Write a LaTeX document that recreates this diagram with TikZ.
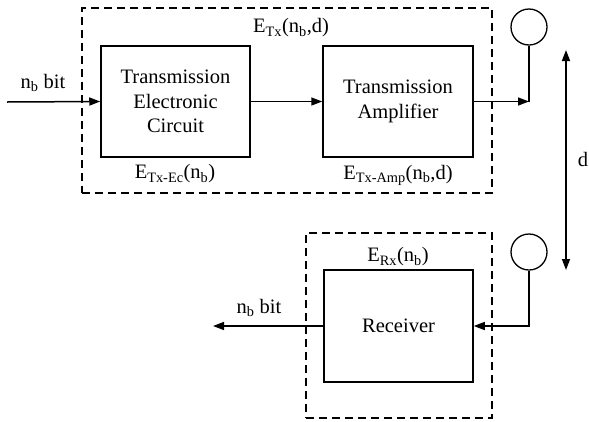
\documentclass[tikz,border=0pt]{standalone}
\usepackage{fontspec}
\setmainfont{Liberation Serif}
\newfontfamily\diagfont{Liberation Serif}
\usetikzlibrary{arrows.meta}

\begin{document}
\begin{tikzpicture}[x=1pt,y=-1pt,
  txt/.style={font=\diagfont\fontsize{20.5}{24.5}\selectfont, inner sep=0pt},
  block/.style={txt, draw, line width=1.5pt, align=center},
  frame/.style={draw, line width=1.3pt, dash pattern=on 8pt off 5pt},
  antenna/.style={draw, circle, line width=1.3pt, minimum size=36pt, inner sep=0pt},
  arr/.style={line width=1.5pt, -{Triangle[length=11pt,width=8pt]}},
  wire/.style={line width=1.5pt}]
\useasboundingbox (0,0) rectangle (589,421);

% transmitter side
\node[frame, minimum width=410pt, minimum height=185pt] (txframe) at (287,100.5) {};
\node[block, minimum width=149pt, minimum height=111pt] (tec) at (175.5,101.5)
  {Transmission\\Electronic\\Circuit};
\node[block, minimum width=150pt, minimum height=111pt] (amp) at (398,101.5)
  {Transmission\\Amplifier};
\node[antenna] (ant1) at (529,27) {};

\node[txt] (etx) at (291,28) {E\textsubscript{Tx}(n\textsubscript{b},d)};
\node[txt] (etxec) at (175,174) {E\textsubscript{Tx-Ec}(n\textsubscript{b})};
\node[txt] (etxamp) at (398,175) {E\textsubscript{Tx-Amp}(n\textsubscript{b},d)};

\coordinate (src) at (7,102);
\node[txt] (inlbl) at (43,83) {n\textsubscript{b} bit};
\draw[arr] (src) -- (tec.west);
\draw[arr] (tec) -- (amp);
\coordinate (feed1) at (ant1.south |- amp.east);
\draw[arr] (amp.east) -- (feed1);
\draw[wire] (feed1) -- (ant1.south);

% distance between antennas
\coordinate (dtop) at (566,50);
\coordinate (dbot) at (566,270);
\draw[line width=1.5pt, {Triangle[length=11pt,width=8pt]}-{Triangle[length=11pt,width=8pt]}] (dtop) -- (dbot);
\node[txt] (dlbl) at (583,159) {d};

% receiver side
\node[frame, minimum width=186pt, minimum height=185pt] (rxframe) at (399,325.5) {};
\node[block, minimum width=149pt, minimum height=112pt] (rx) at (398.5,326) {Receiver};
\node[antenna] (ant2) at (529,252) {};
\node[txt] (erx) at (398,257) {E\textsubscript{Rx}(n\textsubscript{b})};

\draw[arr] (ant2.south) |- (rx.east);
\coordinate (sink) at (213,326);
\draw[arr] (rx.west) -- (sink);
\node[txt] (outlbl) at (259,308) {n\textsubscript{b} bit};
\end{tikzpicture}
\end{document}
